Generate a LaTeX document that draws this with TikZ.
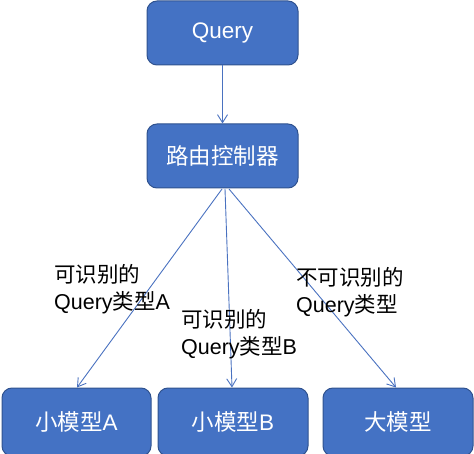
\documentclass[tikz,border=0pt]{standalone}
\usepackage{fontspec}
\setmainfont{Liberation Sans}
\newfontfamily\cjk{Noto Sans CJK SC}
\usetikzlibrary{arrows.meta}
\definecolor{boxfill}{HTML}{4472C4}
\definecolor{boxline}{HTML}{2F528F}
\definecolor{arrowc}{HTML}{4A72C0}
\tikzset{
  box/.style={draw=boxline, line width=1pt, fill=boxfill, rounded corners=10pt,
    text=white, font=\fontsize{22.5}{24}\selectfont, anchor=center},
  conn/.style={draw=arrowc, line width=0.9pt, -{Straight Barb[length=8pt,width=10pt]}},
  lbl/.style={font=\fontsize{21.5}{27}\selectfont, align=left, anchor=north west, inner sep=0pt}
}
\begin{document}
\begin{tikzpicture}[x=1pt,y=-1pt]
\useasboundingbox (0,0) rectangle (474,454);
\node[box, minimum width=151pt, minimum height=64pt] (q) at (222.5,33) {Query};
\node[box, minimum width=151pt, minimum height=64pt] (r) at (222.5,156) {\cjk 路由控制器};
\node[box, minimum width=149pt, minimum height=68pt] (a) at (76.5,422) {{\cjk 小模型}A};
\node[box, minimum width=150pt, minimum height=68pt] (b) at (233,422) {{\cjk 小模型}B};
\node[box, minimum width=150pt, minimum height=68pt] (c) at (398,422) {\cjk 大模型};
\coordinate (ra) at (222,189);
\coordinate (rb) at (225,189);
\coordinate (rc) at (229,189);
\draw[conn] (q.south) -- (r.north);
\draw[conn] (ra) -- (a.north -| 77,0);
\draw[conn] (rb) -- (b.north -| 232,0);
\draw[conn] (rc) -- (c.north -| 396,0);
\node[lbl] (la) at (54,264) {{\cjk 可识别的}\\Query{\cjk 类型}A};
\node[lbl] (lb) at (181,309) {{\cjk 可识别的}\\Query{\cjk 类型}B};
\node[lbl] (lc) at (296,267) {{\cjk 不可识别的}\\Query{\cjk 类型}};
\end{tikzpicture}
\end{document}
